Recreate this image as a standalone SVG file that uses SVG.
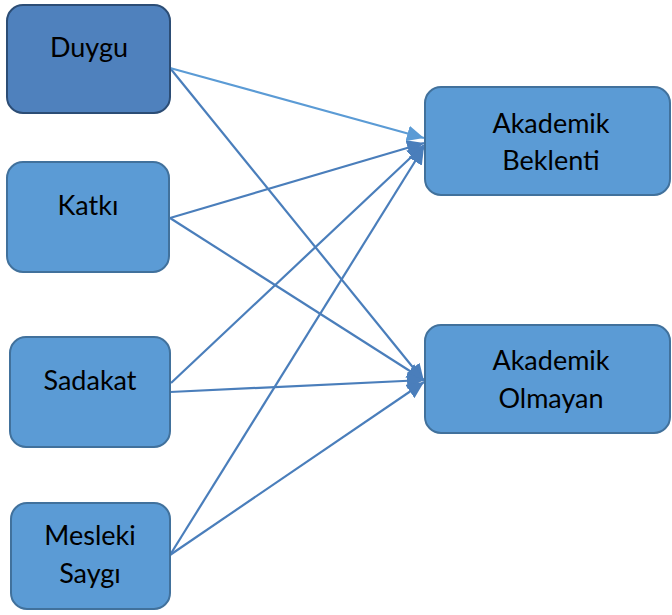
<svg xmlns="http://www.w3.org/2000/svg" width="672" height="615" viewBox="0 0 672 615">
<style>
.box{fill:#5b9bd5;stroke:#41719c;stroke-width:2}
.dark{fill:#4f81bd;stroke:#2c4d75;stroke-width:2}
.lbl{font-family:Lato,"Open Sans",sans-serif;font-size:27px;fill:#000;text-anchor:middle}
.ln{stroke:#4a7ebb;stroke-width:2.2;fill:none;marker-end:url(#ah)}
.ln2{stroke:#5b9bd5;stroke-width:2.2;fill:none;marker-end:url(#ah2)}
</style>
<defs>
<marker id="ah" markerUnits="userSpaceOnUse" markerWidth="19" markerHeight="16" refX="17" refY="8" orient="auto"><path d="M0,0 L17,8 L0,16 Z" fill="#4a7ebb"/></marker>
<marker id="ah2" markerUnits="userSpaceOnUse" markerWidth="19" markerHeight="16" refX="17" refY="8" orient="auto"><path d="M0,0 L17,8 L0,16 Z" fill="#5b9bd5"/></marker>
</defs>
<rect width="672" height="615" fill="#fff"/>
<g id="connectors">
<line class="ln" x1="170" y1="68" x2="424" y2="381"/>
<line class="ln" x1="170" y1="218" x2="424" y2="143"/>
<line class="ln" x1="170" y1="218" x2="424" y2="380"/>
<line class="ln" x1="171" y1="383" x2="424" y2="145"/>
<line class="ln" x1="170" y1="392" x2="424" y2="380"/>
<line class="ln" x1="170" y1="555" x2="424" y2="147"/>
<line class="ln" x1="170" y1="555" x2="424" y2="382"/>
<line class="ln2" x1="170" y1="68" x2="424" y2="138"/>
</g>
<g id="duygu"><rect class="dark" x="7" y="5" width="163" height="108" rx="16"/><text class="lbl" x="89" y="57">Duygu</text></g>
<g id="katki"><rect class="box" x="7" y="162" width="162" height="110" rx="16"/><text class="lbl" x="88" y="215">Katkı</text></g>
<g id="sadakat"><rect class="box" x="10" y="337" width="160" height="110" rx="16"/><text class="lbl" x="90" y="390">Sadakat</text></g>
<g id="mesleki"><rect class="box" x="11" y="503" width="159" height="106" rx="16"/><text class="lbl" x="90" y="545">Mesleki</text><text class="lbl" x="90" y="583">Saygı</text></g>
<g id="akademik-beklenti"><rect class="box" x="425" y="87" width="245" height="108" rx="16"/><text class="lbl" x="551" y="133">Akademik</text><text class="lbl" x="551" y="170">Beklenti</text></g>
<g id="akademik-olmayan"><rect class="box" x="425" y="325" width="245" height="108" rx="16"/><text class="lbl" x="551" y="370">Akademik</text><text class="lbl" x="551" y="408">Olmayan</text></g>
</svg>
